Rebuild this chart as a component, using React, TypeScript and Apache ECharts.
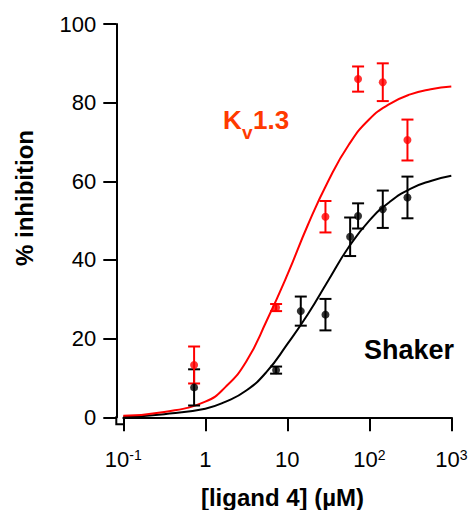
import React, { useEffect, useRef } from "react";
import * as echarts from "echarts";

// X tick labels at decades 10^-1 .. 10^3
const xTickLabels = ["10{sup|-1}", "1", "10", "10{sup|2}", "10{sup|3}"];

// Shaker (black) data points
const blackX = [0.73, 7.3, 14.6, 29.2, 58.4, 73, 146, 292];
const blackY = [7.6, 12.0, 27.0, 26.1, 45.9, 51.2, 52.9, 55.9];
const blackErr = [4.6, 0.9, 3.7, 4.0, 4.9, 3.2, 4.75, 5.3];

// Kv1.3 (red) data points
const redX = [0.73, 7.3, 29.2, 73, 146, 292];
const redY = [13.3, 27.9, 51.0, 86.0, 85.2, 70.5];
const redErr = [4.7, 0.9, 4.0, 3.2, 4.8, 5.2];

// Fitted curves
const fitX = [0.1, 0.316, 1, 1.78, 3.16, 5.62, 10, 17.8, 31.6, 56.2, 100, 178, 316, 562, 1000];
const redFit = [0.4, 1.35, 4.0, 7.8, 14.2, 24.6, 36.2, 48.9, 60.1, 69.3, 75.8, 79.7, 82.1, 83.4, 84.1];
const blackFit = [0.15, 0.8, 2.2, 4.0, 6.8, 11.6, 18.6, 26.2, 34.8, 43.3, 50.0, 54.8, 58.1, 60.1, 61.4];

const FONT = '"Liberation Sans", Arial, Helvetica, sans-serif';
const RED = "#ff0000";
const LABEL_RED = "#ff3a00";

function errorSeries(xs: number[], ys: number[], es: number[], color: string) {
  return {
    type: "custom",
    data: xs.map((x, i) => [x, ys[i], es[i]]),
    encode: { x: 0, y: 1 },
    z: 3,
    renderItem: (params: any, api: any) => {
      const x = api.value(0);
      const y = api.value(1);
      const e = api.value(2);
      const top = api.coord([x, y + e]);
      const bot = api.coord([x, y - e]);
      const hw = 6;
      const style = { stroke: color, lineWidth: 2 };
      return {
        type: "group",
        children: [
          { type: "line", shape: { x1: top[0], y1: top[1], x2: bot[0], y2: bot[1] }, style },
          { type: "line", shape: { x1: top[0] - hw, y1: top[1], x2: top[0] + hw, y2: top[1] }, style },
          { type: "line", shape: { x1: bot[0] - hw, y1: bot[1], x2: bot[0] + hw, y2: bot[1] }, style },
        ],
      };
    },
  };
}

export default function App() {
  const ref = useRef<HTMLDivElement>(null);
  useEffect(() => {
    if (!ref.current) return;
    const chart = echarts.init(ref.current, null, { renderer: "svg" });
    chart.setOption({
      animation: false,
      backgroundColor: "#ffffff",
      grid: { left: 123.3, right: 19.7, top: 24, bottom: 92.7, outerBoundsMode: "none", containLabel: false },
      xAxis: {
        type: "log",
        logBase: 10,
        min: 0.1,
        max: 1000,
        offset: 7,
        splitLine: { show: false },
        minorTick: { show: false },
        axisLine: { show: true, lineStyle: { color: "#000", width: 2 } },
        axisTick: { show: true, length: 14, lineStyle: { color: "#000", width: 2 } },
        axisLabel: {
          margin: 24,
          color: "#000",
          fontSize: 22,
          fontFamily: FONT,
          lineHeight: 22,
          formatter: (v: number) => xTickLabels[Math.round(Math.log10(v)) + 1] ?? "",
          rich: {
            sup: { fontSize: 14, fontFamily: FONT, color: "#000", verticalAlign: "top", lineHeight: 14 },
          },
        },
      },
      yAxis: {
        type: "value",
        min: 0,
        max: 100,
        interval: 20,
        offset: 7,
        splitLine: { show: false },
        axisLine: { show: true, lineStyle: { color: "#000", width: 2 } },
        axisTick: { show: true, length: 13, lineStyle: { color: "#000", width: 2 } },
        axisLabel: { margin: 20, color: "#000", fontSize: 22, fontFamily: FONT },
      },
      series: [
        {
          type: "line",
          data: fitX.map((x, i) => [x, blackFit[i]]),
          showSymbol: false,
          smooth: 0.5,
          lineStyle: { color: "#000", width: 2 },
          z: 2,
        },
        {
          type: "line",
          data: fitX.map((x, i) => [x, redFit[i]]),
          showSymbol: false,
          smooth: 0.5,
          lineStyle: { color: RED, width: 2 },
          z: 2,
        },
        errorSeries(blackX, blackY, blackErr, "#000"),
        errorSeries(redX, redY, redErr, RED),
        {
          type: "scatter",
          data: blackX.map((x, i) => [x, blackY[i]]),
          symbol: "circle",
          symbolSize: 8,
          itemStyle: { color: "#000" },
          z: 4,
        },
        {
          type: "scatter",
          data: redX.map((x, i) => [x, redY[i]]),
          symbol: "circle",
          symbolSize: 8,
          itemStyle: { color: RED },
          z: 4,
        },
      ],
      graphic: [
        {
          type: "polyline",
          shape: { points: [[116.3, 416.3], [116.3, 424.3], [124.3, 424.3]] },
          style: { stroke: "#000", lineWidth: 2, fill: null },
          z: 10,
        },
        {
          type: "text",
          x: 24,
          y: 198,
          rotation: Math.PI / 2,
          style: {
            text: "% inhibition",
            font: `bold 24px ${FONT}`,
            fill: "#000",
            textAlign: "center",
            textVerticalAlign: "middle",
          },
        },
        {
          type: "text",
          x: 282.5,
          y: 497,
          style: {
            text: "[ligand 4] (µM)",
            font: `bold 24px ${FONT}`,
            fill: "#000",
            textAlign: "center",
            textVerticalAlign: "middle",
          },
        },
        {
          type: "text",
          x: 223,
          y: 133,
          style: { text: "K", font: `bold 26px ${FONT}`, fill: LABEL_RED, textAlign: "left", textVerticalAlign: "bottom" },
        },
        {
          type: "text",
          x: 242,
          y: 141.7,
          style: { text: "v", font: `bold 19px ${FONT}`, fill: LABEL_RED, textAlign: "left", textVerticalAlign: "bottom" },
        },
        {
          type: "text",
          x: 253,
          y: 133,
          style: { text: "1.3", font: `bold 26px ${FONT}`, fill: LABEL_RED, textAlign: "left", textVerticalAlign: "bottom" },
        },
        {
          type: "text",
          x: 364,
          y: 363,
          style: { text: "Shaker", font: `bold 27px ${FONT}`, fill: "#000", textAlign: "left", textVerticalAlign: "bottom" },
        },
      ],
    });
    return () => chart.dispose();
  }, []);
  return (
    <div
      ref={ref}
      style={{ position: "absolute", left: 0, top: 0, width: 471, height: 510, background: "#fff" }}
    />
  );
}
